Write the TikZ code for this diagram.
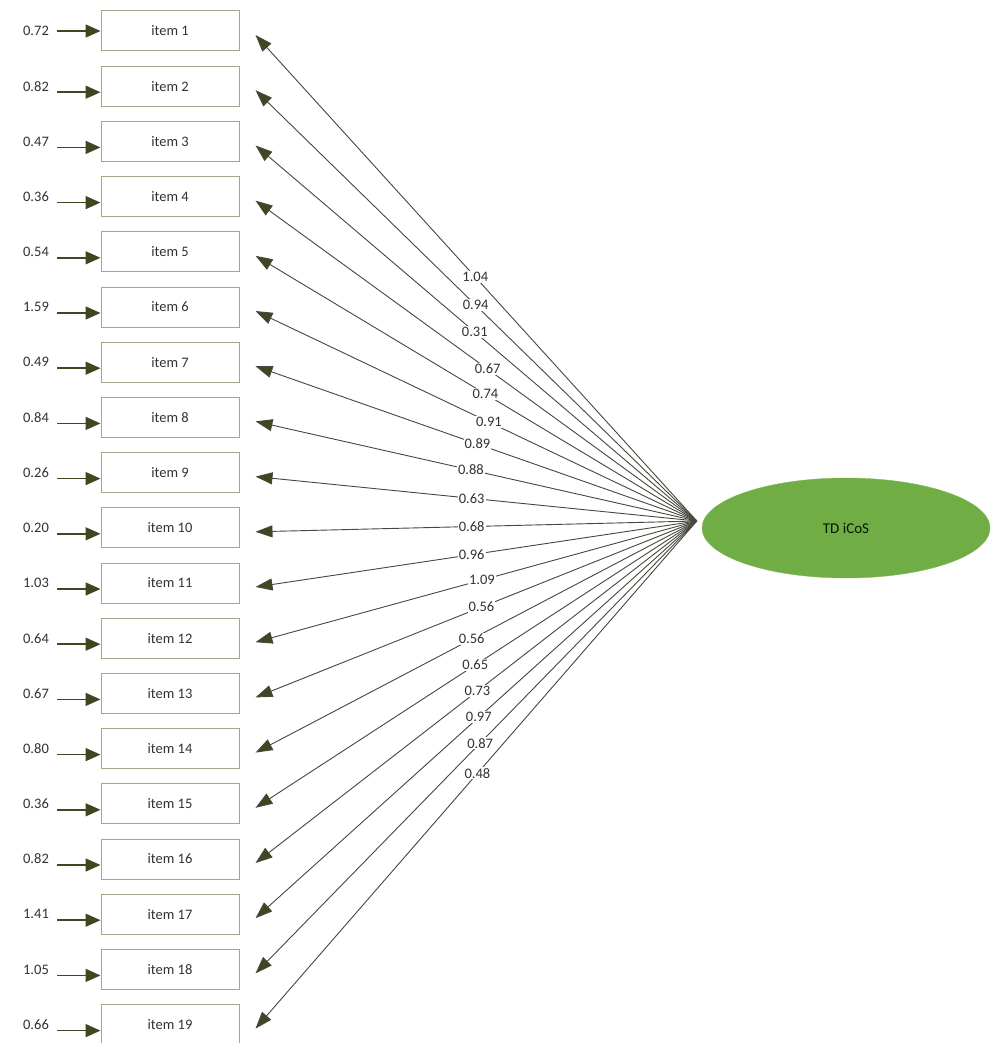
\documentclass[tikz,border=0pt]{standalone}
\usepackage{fontspec}
\setmainfont{Carlito}
\usetikzlibrary{arrows.meta,shapes.geometric,calc}
\definecolor{olive}{RGB}{62,72,32}
\definecolor{linegray}{RGB}{70,72,62}
\definecolor{boxedge}{RGB}{160,168,140}
\definecolor{latgreen}{RGB}{112,173,68}
\definecolor{txt}{RGB}{50,50,50}
\tikzset{
  itembox/.style={draw=boxedge, line width=1pt, fill=white, minimum width=138pt, minimum height=40pt, inner sep=0pt, font=\fontsize{14.5}{16}\selectfont, text=txt},
  errlab/.style={font=\fontsize{14.5}{16}\selectfont, text=txt, inner sep=0pt},
  smallarrow/.style={draw=olive, line width=1.6pt, -{Triangle[length=15pt,width=13pt]}},
  loadarrow/.style={draw=linegray, line width=0.9pt, -{Triangle[length=17pt,width=12pt,fill=olive]}},
  loadlab/.style={fill=white, inner sep=1pt, font=\fontsize{14.5}{16}\selectfont, text=txt},
  latent/.style={ellipse, fill=latgreen, draw=latgreen!85!white, minimum width=288pt, minimum height=100pt, font=\fontsize{15}{17}\selectfont, text={black!75!green!40!black}}
}
\begin{document}
\begin{tikzpicture}[x=1pt,y=-1pt]
\useasboundingbox (0,0) rectangle (990,1043);
\fill[white] (0,0) rectangle (990,1043);
\node[latent] (lat) at (846,528) {TD iCoS};
\coordinate (hub) at ($(lat.west)+(-5,-7)$);
\foreach \i/\e/\l/\p in {1/0.72/1.04/0.502, 2/0.82/0.94/0.501, 3/0.47/0.31/0.503, 4/0.36/0.67/0.474, 5/0.54/0.74/0.479, 6/1.59/0.91/0.471, 7/0.49/0.89/0.497, 8/0.84/0.88/0.512, 9/0.26/0.63/0.51, 10/0.20/0.68/0.51, 11/1.03/0.96/0.51, 12/0.64/1.09/0.487, 13/0.67/0.56/0.488, 14/0.80/0.56/0.51, 15/0.36/0.65/0.502, 16/0.82/0.73/0.497, 17/1.41/0.97/0.494, 18/1.05/0.87/0.491, 19/0.66/0.48/0.497}{
  \pgfmathsetmacro{\yc}{31+(\i-1)*55.2}
  \pgfmathsetmacro{\ya}{ifthenelse(\i==1,0,6)}
  \node[itembox] (b\i) at (170,\yc) {item \i};
  \node[errlab] (e\i) at (36,\yc) {\e};
  \coordinate (s\i) at (57,\yc+\ya);
  \draw[smallarrow] (s\i) -- (s\i -| b\i.west);
  \coordinate (t\i) at ($(b\i.east)+(16,4)$);
  \draw[loadarrow] (hub) -- node[loadlab, pos=\p] {\l} (t\i);
}
\end{tikzpicture}
\end{document}
